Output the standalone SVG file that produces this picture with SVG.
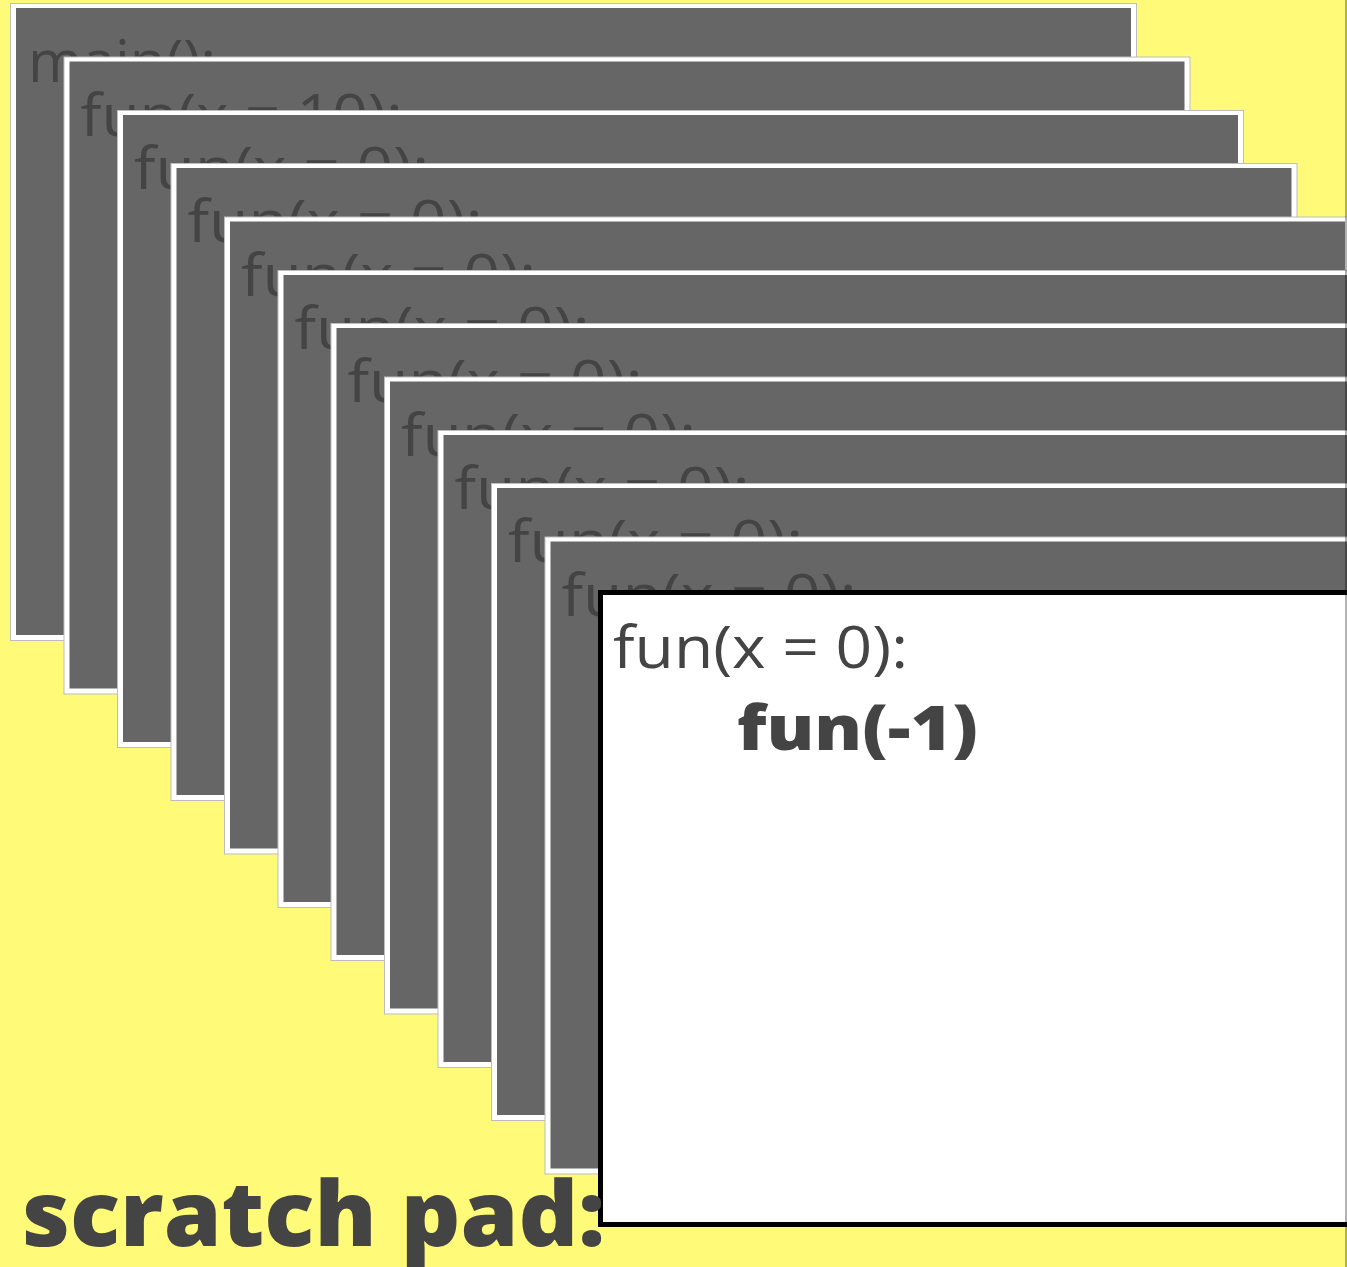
<svg xmlns="http://www.w3.org/2000/svg" width="1347" height="1267" viewBox="0 0 1347 1267">
  <style>
    .frame { fill: #ffffff; stroke: #bdbdbd; stroke-width: 1; }
    .face { fill: #666666; }
    .code { font-family: "Open Sans", "Liberation Sans", sans-serif; font-size: 58px; fill: #444444; }
    .call { font-family: "Open Sans", "Liberation Sans", sans-serif; font-size: 62px; font-weight: 800; fill: #444444; }
    .title { font-family: "Open Sans", "Liberation Sans", sans-serif; font-size: 90px; font-weight: 800; fill: #444444; }
    .top { fill: #ffffff; stroke: #000000; stroke-width: 5; }
  </style>

  <!-- page background -->
  <rect x="0" y="0" width="1347" height="1267" fill="#fffa78"/>

  <!-- stacked call frames, oldest at the back -->
  <g id="frame-0" transform="translate(10,3)">
    <rect class="frame" x="0.5" y="0.5" width="1126" height="637"/>
    <rect class="face" x="6" y="5" width="1115" height="627"/>
    <text class="code" x="18" y="79" textLength="188" lengthAdjust="spacingAndGlyphs">main():</text>
  </g>
  <g id="frame-1" transform="translate(63.5,56.5)">
    <rect class="frame" x="0.5" y="0.5" width="1126" height="637"/>
    <rect class="face" x="6" y="5" width="1115" height="627"/>
    <text class="code" x="17" y="79" textLength="322" lengthAdjust="spacingAndGlyphs">fun(x = 10):</text>
  </g>
  <g id="frame-2" transform="translate(117,110)">
    <rect class="frame" x="0.5" y="0.5" width="1126" height="637"/>
    <rect class="face" x="6" y="5" width="1115" height="627"/>
    <text class="code" x="17" y="79" textLength="295" lengthAdjust="spacingAndGlyphs">fun(x = 0):</text>
  </g>
  <g id="frame-3" transform="translate(170.5,163)">
    <rect class="frame" x="0.5" y="0.5" width="1126" height="637"/>
    <rect class="face" x="6" y="5" width="1115" height="627"/>
    <text class="code" x="17" y="79" textLength="295" lengthAdjust="spacingAndGlyphs">fun(x = 0):</text>
  </g>
  <g id="frame-4" transform="translate(224,216.5)">
    <rect class="frame" x="0.5" y="0.5" width="1126" height="637"/>
    <rect class="face" x="6" y="5" width="1115" height="627"/>
    <text class="code" x="17" y="79" textLength="295" lengthAdjust="spacingAndGlyphs">fun(x = 0):</text>
  </g>
  <g id="frame-5" transform="translate(277.5,270)">
    <rect class="frame" x="0.5" y="0.5" width="1126" height="637"/>
    <rect class="face" x="6" y="5" width="1115" height="627"/>
    <text class="code" x="17" y="79" textLength="295" lengthAdjust="spacingAndGlyphs">fun(x = 0):</text>
  </g>
  <g id="frame-6" transform="translate(330.5,323)">
    <rect class="frame" x="0.5" y="0.5" width="1126" height="637"/>
    <rect class="face" x="6" y="5" width="1115" height="627"/>
    <text class="code" x="17" y="79" textLength="295" lengthAdjust="spacingAndGlyphs">fun(x = 0):</text>
  </g>
  <g id="frame-7" transform="translate(384,376.5)">
    <rect class="frame" x="0.5" y="0.5" width="1126" height="637"/>
    <rect class="face" x="6" y="5" width="1115" height="627"/>
    <text class="code" x="17" y="79" textLength="295" lengthAdjust="spacingAndGlyphs">fun(x = 0):</text>
  </g>
  <g id="frame-8" transform="translate(437.5,430)">
    <rect class="frame" x="0.5" y="0.5" width="1126" height="637"/>
    <rect class="face" x="6" y="5" width="1115" height="627"/>
    <text class="code" x="17" y="79" textLength="295" lengthAdjust="spacingAndGlyphs">fun(x = 0):</text>
  </g>
  <g id="frame-9" transform="translate(491,483)">
    <rect class="frame" x="0.5" y="0.5" width="1126" height="637"/>
    <rect class="face" x="6" y="5" width="1115" height="627"/>
    <text class="code" x="17" y="79" textLength="295" lengthAdjust="spacingAndGlyphs">fun(x = 0):</text>
  </g>
  <g id="frame-10" transform="translate(544.5,536.5)">
    <rect class="frame" x="0.5" y="0.5" width="1126" height="637"/>
    <rect class="face" x="6" y="5" width="1115" height="627"/>
    <text class="code" x="17" y="79" textLength="295" lengthAdjust="spacingAndGlyphs">fun(x = 0):</text>
  </g>

  <!-- active frame on top -->
  <g id="frame-active" transform="translate(598,590)">
    <rect class="top" x="2.5" y="2.5" width="800" height="632"/>
    <text class="code" x="15" y="78" textLength="295" lengthAdjust="spacingAndGlyphs">fun(x = 0):</text>
    <text class="call" x="139" y="160" textLength="241" lengthAdjust="spacingAndGlyphs">fun(-1)</text>
  </g>

  <!-- caption -->
  <g id="caption">
    <text class="title" x="22" y="1246" textLength="583" lengthAdjust="spacingAndGlyphs">scratch pad:</text>
  </g>

  <!-- right page edge -->
  <rect x="1345" y="0" width="2" height="1267" fill="#000000" fill-opacity="0.3"/>

  <g id="connectors"/>
</svg>
